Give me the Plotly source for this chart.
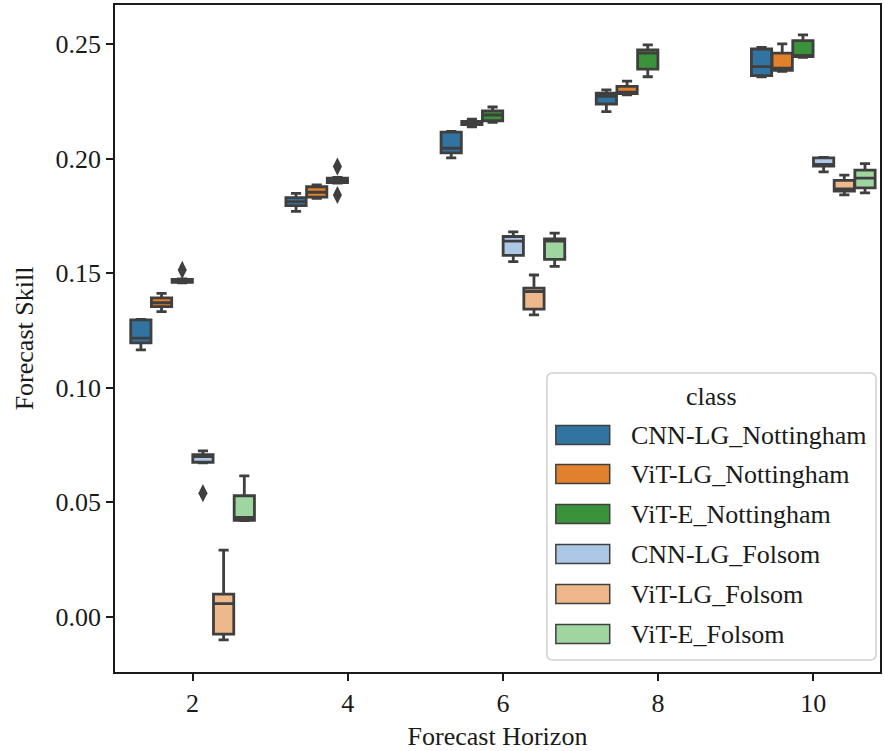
import plotly.graph_objects as go

# ---------------- data ----------------
horizons = ["2", "4", "6", "8", "10"]
classes = ["CNN-LG_Nottingham", "ViT-LG_Nottingham", "ViT-E_Nottingham",
           "CNN-LG_Folsom", "ViT-LG_Folsom", "ViT-E_Folsom"]
colors = ["#3274a1", "#e1812c", "#3a923a", "#adc8e6", "#efb88a", "#9fd6a0"]

# category indices present for each class
cnn_n_idx = [0, 1, 2, 3, 4]
cnn_n_low = [0.1165, 0.1770, 0.2003, 0.2205, 0.2357]
cnn_n_q1 = [0.1196, 0.1795, 0.2025, 0.2238, 0.2362]
cnn_n_med = [0.1217, 0.1812, 0.2045, 0.2272, 0.2401]
cnn_n_q3 = [0.1296, 0.1830, 0.2115, 0.2285, 0.2478]
cnn_n_high = [0.1298, 0.1848, 0.2118, 0.2300, 0.2485]
cnn_n_out_idx = []
cnn_n_out = []

vitlg_n_idx = [0, 1, 2, 3, 4]
vitlg_n_low = [0.1332, 0.1826, 0.2138, 0.2278, 0.2380]
vitlg_n_q1 = [0.1354, 0.1832, 0.2148, 0.2283, 0.2385]
vitlg_n_med = [0.1371, 0.1853, 0.2155, 0.2290, 0.2395]
vitlg_n_q3 = [0.1392, 0.1877, 0.2162, 0.2315, 0.2460]
vitlg_n_high = [0.1412, 0.1885, 0.2172, 0.2338, 0.2500]
vitlg_n_out_idx = []
vitlg_n_out = []

vite_n_idx = [0, 1, 2, 3, 4]
vite_n_low = [0.1458, 0.1893, 0.2158, 0.2357, 0.2442]
vite_n_q1 = [0.1460, 0.1895, 0.2165, 0.2390, 0.2445]
vite_n_med = [0.1467, 0.1905, 0.2190, 0.2460, 0.2450]
vite_n_q3 = [0.1473, 0.1915, 0.2208, 0.2474, 0.2515]
vite_n_high = [0.1475, 0.1918, 0.2225, 0.2496, 0.2540]
vite_n_out_idx = [0, 1, 1]
vite_n_out = [0.1514, 0.1965, 0.1841]

cnn_f_idx = [0, 2, 4]
cnn_f_low = [0.0672, 0.1550, 0.1942]
cnn_f_q1 = [0.0675, 0.1578, 0.1967]
cnn_f_med = [0.0700, 0.1640, 0.1975]
cnn_f_q3 = [0.0708, 0.1660, 0.2003]
cnn_f_high = [0.0725, 0.1680, 0.2005]
cnn_f_out_idx = [0]
cnn_f_out = [0.0540]

vitlg_f_idx = [0, 2, 4]
vitlg_f_low = [-0.0100, 0.1318, 0.1842]
vitlg_f_q1 = [-0.0075, 0.1343, 0.1858]
vitlg_f_med = [0.0058, 0.1420, 0.1868]
vitlg_f_q3 = [0.0100, 0.1435, 0.1905]
vitlg_f_high = [0.0292, 0.1492, 0.1928]
vitlg_f_out_idx = []
vitlg_f_out = []

vite_f_idx = [0, 2, 4]
vite_f_low = [0.0420, 0.1530, 0.1850]
vite_f_q1 = [0.0422, 0.1560, 0.1872]
vite_f_med = [0.0435, 0.1640, 0.1915]
vite_f_q3 = [0.0529, 0.1650, 0.1950]
vite_f_high = [0.0616, 0.1675, 0.1978]
vite_f_out_idx = []
vite_f_out = []

y_ticks = [0.00, 0.05, 0.10, 0.15, 0.20, 0.25]

series = [
    (cnn_n_idx, cnn_n_low, cnn_n_q1, cnn_n_med, cnn_n_q3, cnn_n_high, cnn_n_out_idx, cnn_n_out),
    (vitlg_n_idx, vitlg_n_low, vitlg_n_q1, vitlg_n_med, vitlg_n_q3, vitlg_n_high, vitlg_n_out_idx, vitlg_n_out),
    (vite_n_idx, vite_n_low, vite_n_q1, vite_n_med, vite_n_q3, vite_n_high, vite_n_out_idx, vite_n_out),
    (cnn_f_idx, cnn_f_low, cnn_f_q1, cnn_f_med, cnn_f_q3, cnn_f_high, cnn_f_out_idx, cnn_f_out),
    (vitlg_f_idx, vitlg_f_low, vitlg_f_q1, vitlg_f_med, vitlg_f_q3, vitlg_f_high, vitlg_f_out_idx, vitlg_f_out),
    (vite_f_idx, vite_f_low, vite_f_q1, vite_f_med, vite_f_q3, vite_f_high, vite_f_out_idx, vite_f_out),
]

# ---------------- figure ----------------
FONT = "Liberation Serif"
FS = 26
TXT = "#1a1a1a"
EDGE = "#3f3f3f"
n_h = len(classes)
group_w = 0.8
box_w = group_w / n_h

fig = go.Figure()
for k, (name, col, s) in enumerate(zip(classes, colors, series)):
    idx, low, q1, med, q3, high, oidx, oval = s
    off = -group_w / 2 + box_w / 2 + k * box_w
    xs = [i + off for i in idx]
    fig.add_trace(go.Box(
        name=name, x=xs, q1=q1, median=med, q3=q3,
        lowerfence=low, upperfence=high,
        width=box_w * 0.98, whiskerwidth=0.5,
        fillcolor=col, line=dict(color=EDGE, width=2.8),
        boxpoints=False, showlegend=False, hoverinfo="skip",
    ))
    if oval:
        fig.add_trace(go.Scatter(
            x=[i + off for i in oidx], y=oval, mode="markers",
            marker=dict(symbol="diamond-tall", size=13, color=EDGE,
                        line=dict(width=0)),
            showlegend=False, hoverinfo="skip",
        ))

W, H = 884, 751
ML, MR, MT, MB = 115, 2, 5, 79
pw, ph = W - ML - MR, H - MT - MB

fig.update_layout(
    width=W, height=H,
    margin=dict(l=ML, r=MR, t=MT, b=MB, pad=0),
    paper_bgcolor="white", plot_bgcolor="white",
    boxmode="overlay",
    font=dict(family=FONT, size=FS, color=TXT),
    xaxis=dict(
        range=[-0.5, 4.43], tickmode="array",
        tickvals=list(range(len(horizons))), ticktext=horizons,
        showgrid=False, zeroline=False,
        showline=True, linecolor=TXT, linewidth=1.5, mirror=True,
        ticks="outside", ticklen=7, tickwidth=1.5, tickcolor=TXT,
        tickfont=dict(family=FONT, size=FS, color=TXT),
        title=dict(text="Forecast Horizon", font=dict(family=FONT, size=FS, color=TXT), standoff=12),
    ),
    yaxis=dict(
        range=[-0.024, 0.267], tickmode="array",
        tickvals=y_ticks, ticktext=[f"{v:.2f}" for v in y_ticks],
        showgrid=False, zeroline=False,
        showline=True, linecolor=TXT, linewidth=1.5, mirror=True,
        ticks="outside", ticklen=7, tickwidth=1.5, tickcolor=TXT,
        tickfont=dict(family=FONT, size=FS, color=TXT),
        title=dict(text="Forecast Skill", font=dict(family=FONT, size=FS, color=TXT), standoff=14),
    ),
)

# ---------------- legend (drawn in paper coords) ----------------
def px2x(px):
    return (px - ML) / pw

def py2y(py):
    return (H - MB - py) / ph

lx0, lx1, ly0, ly1 = px2x(548), px2x(878), py2y(660), py2y(373)
rx, ry = 6 / pw, 6 / ph
path = (f"M {lx0+rx},{ly1} L {lx1-rx},{ly1} Q {lx1},{ly1} {lx1},{ly1-ry} "
        f"L {lx1},{ly0+ry} Q {lx1},{ly0} {lx1-rx},{ly0} L {lx0+rx},{ly0} "
        f"Q {lx0},{ly0} {lx0},{ly0+ry} L {lx0},{ly1-ry} Q {lx0},{ly1} {lx0+rx},{ly1} Z")
fig.add_shape(type="path", path=path, xref="paper", yref="paper",
              fillcolor="rgba(255,255,255,0.85)", line=dict(color="#d0d0d0", width=1.5))
fig.add_annotation(text="class", x=px2x(713), y=py2y(396), xref="paper", yref="paper",
                   showarrow=False, xanchor="center", yanchor="middle",
                   font=dict(family=FONT, size=FS, color=TXT))
entry_y = [435, 474, 514, 554, 594, 634]
for name, col, ey in zip(classes, colors, entry_y):
    fig.add_shape(type="rect", xref="paper", yref="paper",
                  x0=px2x(557), x1=px2x(611), y0=py2y(ey + 9.5), y1=py2y(ey - 9.5),
                  fillcolor=col, line=dict(color=EDGE, width=1.5))
    fig.add_annotation(text=name, x=px2x(630), y=py2y(ey), xref="paper", yref="paper",
                       showarrow=False, xanchor="left", yanchor="middle",
                       font=dict(family=FONT, size=FS, color=TXT))

fig.write_html("out.html")
